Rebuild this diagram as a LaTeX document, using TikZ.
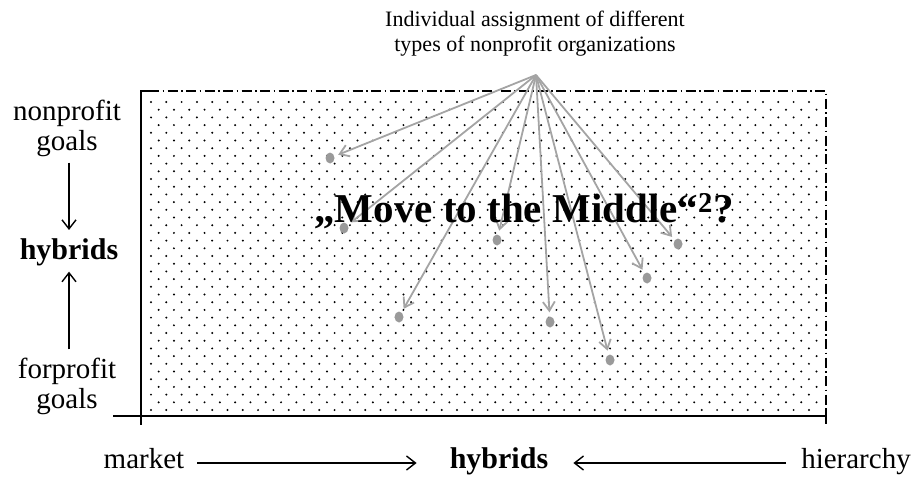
\documentclass[tikz,border=0pt]{standalone}
\usepackage{fontspec}
\setmainfont{Liberation Serif}
\usetikzlibrary{arrows.meta,shapes.geometric}
\definecolor{pickgray}{HTML}{A4A4A4}
\definecolor{orggray}{HTML}{9A9A9A}
\begin{document}
\begin{tikzpicture}[x=1pt,y=-1pt,
  lbl/.style={font=\fontsize{29}{30}\selectfont, inner sep=0pt, align=center},
  lblb/.style={inner sep=0pt, font=\fontsize{30}{30}\selectfont\bfseries},
  axis/.style={inner sep=0pt, text height=16pt, text depth=6pt},
  blk/.style={-{Straight Barb[length=9pt,width=14pt]}, line width=1.4pt},
  pick/.style={-{Straight Barb[length=9pt,width=12pt]}, draw=pickgray, line width=1.8pt, shorten >=4pt},
  org/.style={ellipse, fill=orggray, minimum width=9pt, minimum height=11pt, inner sep=0pt},
  solidline/.style={line width=1.5pt},
  dashdot/.style={line width=1.4pt, dash pattern=on 10pt off 3.5pt on 1.5pt off 3.5pt},
]
\useasboundingbox (0,0) rectangle (921,479);

% dotted field
\foreach \i in {0,...,40}{
  \foreach \j in {0,...,43}{
    \fill ({151+15.3*\j+7.65*mod(\i,2)},{102+7.7*\i}) circle (1.1);
  }
}

% frame
\draw[solidline] (141,90) -- (141,425);
\draw[solidline] (113,416) -- (826,416);
\draw[solidline] (141,91) -- (149,91);
\draw[dashdot] (149,91) -- (826,91) -- (826,410);
\draw[solidline] (826,408) -- (826,424);

% title and apex
\node[font=\fontsize{22}{25}\selectfont, align=center, inner sep=0pt] (title) at (535,34)
  {Individual assignment of different\\types of nonprofit organizations};
\coordinate (apex) at (536,75);

% organizations
\node[org] (d1) at (330,158) {};
\node[org] (d2) at (344,228) {};
\node[org] (d3) at (399,317) {};
\node[org] (d4) at (497,240) {};
\node[org] (d5) at (550,322) {};
\node[org] (d6) at (610,360) {};
\node[org] (d7) at (647,278) {};
\node[org] (d8) at (678,244) {};
\foreach \d in {d1,d2,d3,d4,d5,d6,d7,d8}{
  \draw[pick] (apex) -- (\d);
}

% middle text
\node[font=\fontsize{41}{44}\selectfont\bfseries, inner sep=0pt, anchor=base] (mid) at (524,222)
  {„Move to the Middle“\textsuperscript{2}?};

% left scale
\node[lbl] (np) at (67,128) {nonprofit\\goals};
\node[lblb, anchor=base] (hyL) at (69,259) {hybrids};
\node[lbl] (fp) at (67,386) {forprofit\\goals};
\draw[blk, shorten <=6pt, shorten >=8pt] (np.south -| hyL.center) -- (hyL.north);
\draw[blk, shorten <=8pt, shorten >=6pt] (fp.north -| hyL.center) -- (hyL.south);

% bottom scale
\node[axis, font=\fontsize{29}{30}\selectfont, anchor=base] (market) at (144,468) {market};
\node[axis, font=\fontsize{30}{30}\selectfont\bfseries, anchor=base] (hyB) at (499,468) {hybrids};
\node[axis, font=\fontsize{29}{30}\selectfont, anchor=base] (hier) at (856,468) {hierarchy};
\draw[blk, shorten <=13pt, shorten >=33pt] (market) -- (hyB);
\draw[blk, shorten <=15pt, shorten >=25pt] (hier) -- (hyB);
\end{tikzpicture}
\end{document}
